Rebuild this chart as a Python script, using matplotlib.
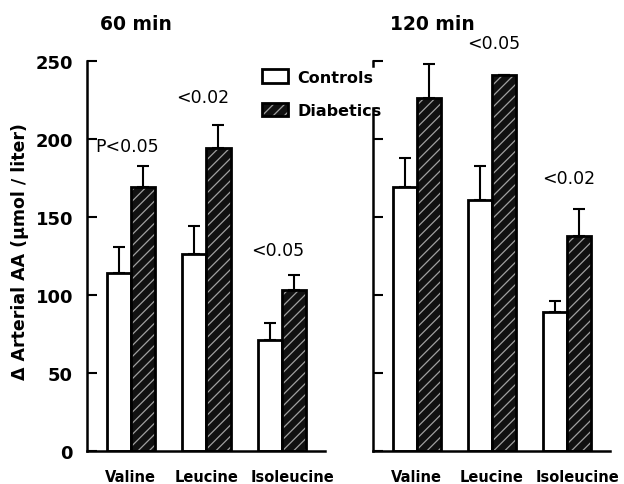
import numpy as np
import matplotlib
matplotlib.use("Agg")
import matplotlib.pyplot as plt
from matplotlib.patches import Patch

plt.rcParams["font.family"] = ["DejaVu Sans"]
plt.rcParams["hatch.linewidth"] = 0.9

# Data (delta arterial AA, umol/liter)
amino_acids = ["Valine", "Leucine", "Isoleucine"]

ctrl_60 = [114, 126, 71]
ctrl_60_err = [17, 18, 11]
diab_60 = [169, 194, 103]
diab_60_err = [14, 15, 10]
p_60 = ["P<0.05", "<0.02", "<0.05"]

ctrl_120 = [169, 161, 89]
ctrl_120_err = [19, 22, 7]
diab_120 = [226, 241, 138]
diab_120_err = [22, 0, 17]
p_120 = ["", "<0.05", "<0.02"]
p_120_y = [0, 256, 169]

fig = plt.figure(figsize=(6.24, 4.85), dpi=100)
ax1 = fig.add_axes([87/624, 33/485, 238/624, 390/485])
ax2 = fig.add_axes([373/624, 33/485, 237/624, 390/485])

x = np.arange(len(amino_acids))
w = 0.32
label_shift = [0, 0, 0.14]  # labels in the original sit a bit off the group centres


def draw_panel(ax, ctrl, ctrl_err, diab, diab_err):
    ax.bar(x - w/2, ctrl, w, color="white", edgecolor="black", linewidth=2, zorder=2)
    # hatched dark bars: fill + hatch first, black outline on top
    ax.bar(x + w/2, diab, w, color="#111111", edgecolor="#a0a0a0", hatch="///",
           linewidth=0, zorder=2)
    ax.bar(x + w/2, diab, w, fill=False, edgecolor="black", linewidth=2, zorder=3)
    ax.errorbar(x - w/2, ctrl, yerr=[np.zeros(3), ctrl_err], fmt="none", ecolor="black",
                elinewidth=1.5, capsize=4, capthick=1.5, zorder=1)
    ax.errorbar(x + w/2, diab, yerr=[np.zeros(3), diab_err], fmt="none", ecolor="black",
                elinewidth=1.5, capsize=4, capthick=1.5, zorder=1)
    ax.set_xlim(-0.58, 2.57)
    ax.set_ylim(0, 250)
    ax.set_yticks([0, 50, 100, 150, 200, 250])
    ax.set_xticks(x + np.array(label_shift))
    ax.set_xticklabels(amino_acids, fontsize=10.5, fontweight="bold")
    ax.tick_params(axis="x", length=0, pad=13)
    ax.tick_params(axis="y", direction="in", length=7, width=1.5, labelsize=13)
    for lab in ax.get_yticklabels():
        lab.set_fontweight("bold")
    for s in ["top", "right"]:
        ax.spines[s].set_visible(False)
    ax.spines["left"].set_linewidth(1.8)
    ax.spines["bottom"].set_linewidth(1.8)


draw_panel(ax1, ctrl_60, ctrl_60_err, diab_60, diab_60_err)
draw_panel(ax2, ctrl_120, ctrl_120_err, diab_120, diab_120_err)
ax1.tick_params(axis="y", pad=10)
ax2.set_yticklabels([])

# right panel's axis line is broken behind the legend
ax2.spines["left"].set_bounds(0, 220)
ax2.plot([-0.58, -0.58], [247, 250], color="black", lw=1.8, clip_on=False, zorder=4)

# p-value labels
p60_y = [190, 221, 123]
for i, t in enumerate(p_60):
    ax1.text(x[i] - 0.05, p60_y[i], t, ha="center", va="bottom", fontsize=12.5)
for i, t in enumerate(p_120):
    if t:
        ax2.text(x[i] + 0.02, p_120_y[i], t, ha="center", va="bottom", fontsize=12.5,
                 clip_on=False)

fig.text(100/624, 1 - 25/485, "60 min", fontsize=13.5, fontweight="bold", va="center")
fig.text(390/624, 1 - 25/485, "120 min", fontsize=13.5, fontweight="bold", va="center")
fig.text(20/624, 1 - 252/485, "Δ Arterial AA (μmol / liter)", rotation=90,
         fontsize=12.5, fontweight="bold", ha="center", va="center")

h_ctrl = Patch(facecolor="white", edgecolor="black", linewidth=2)
h_diab = (Patch(facecolor="#111111", edgecolor="#a0a0a0", hatch="///", linewidth=0),
          Patch(fill=False, edgecolor="black", linewidth=2))
fig.legend([h_ctrl, h_diab], ["Controls", "Diabetics"], loc="upper left",
           bbox_to_anchor=(248/624, 1 - 56/485), frameon=False,
           prop={"weight": "bold", "size": 11.5}, handlelength=1.6, handleheight=0.9,
           labelspacing=1.15, handletextpad=0.6)

fig.savefig("out.png", dpi=100)
